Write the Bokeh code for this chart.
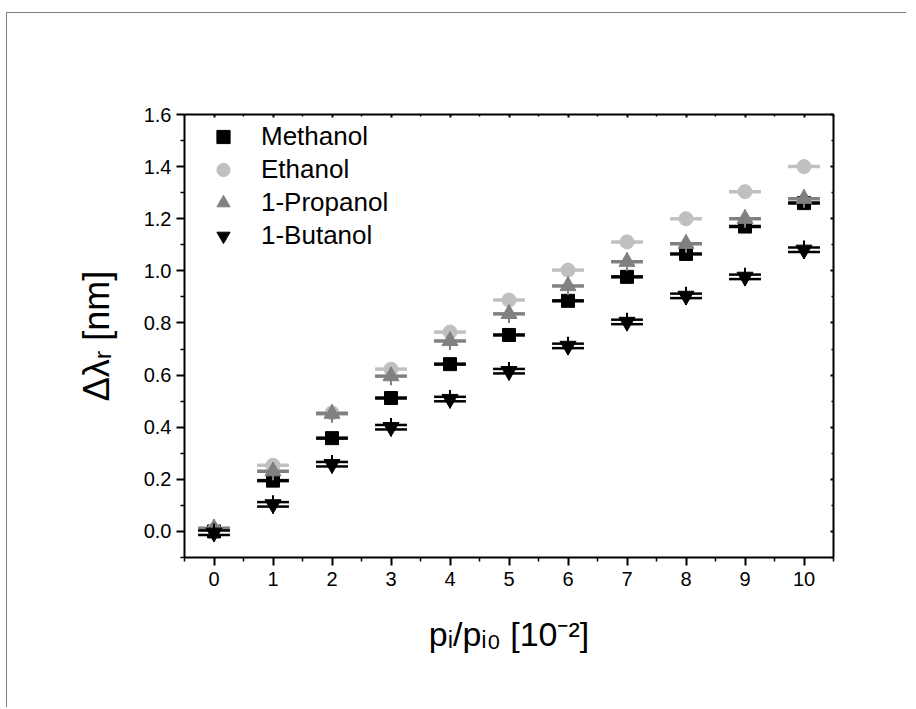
from bokeh.plotting import figure
from bokeh.models import (Range1d, LinearAxis, FixedTicker, NumeralTickFormatter,
                          Legend, LegendItem, CustomJSTickFormatter)
from bokeh.embed import file_html
from bokeh.resources import INLINE

# ---------------- data ----------------
x_vals = [0, 1, 2, 3, 4, 5, 6, 7, 8, 9, 10]
methanol = [0.000, 0.195, 0.358, 0.512, 0.642, 0.754, 0.885, 0.977, 1.065, 1.170, 1.260]
ethanol = [0.005, 0.254, 0.455, 0.623, 0.765, 0.888, 1.003, 1.111, 1.200, 1.304, 1.400]
propanol = [0.012, 0.231, 0.452, 0.596, 0.731, 0.835, 0.942, 1.035, 1.104, 1.200, 1.277]
butanol = [-0.005, 0.104, 0.258, 0.400, 0.508, 0.615, 0.712, 0.804, 0.904, 0.977, 1.081]
x_err = 0.27
y_err = {"Methanol": 0.02, "Ethanol": 0.02, "1-Propanol": 0.035, "1-Butanol": 0.035}

x_ticks = [0, 1, 2, 3, 4, 5, 6, 7, 8, 9, 10]
x_minor = [-0.5, 0.5, 1.5, 2.5, 3.5, 4.5, 5.5, 6.5, 7.5, 8.5, 9.5, 10.5]
y_ticks = [0.0, 0.2, 0.4, 0.6, 0.8, 1.0, 1.2, 1.4, 1.6]
y_minor = [-0.1, 0.1, 0.3, 0.5, 0.7, 0.9, 1.1, 1.3, 1.5]

x_label = "pᵢ/pᵢ₀ [10⁻²]"
y_label = "Δλᵣ [nm]"

FONT = "Liberation Sans"

p = figure(width=900, height=695, x_range=Range1d(-0.5, 10.5), y_range=Range1d(-0.1, 1.6),
           output_backend="svg", toolbar_location=None,
           min_border_left=177, min_border_right=74, min_border_top=101, min_border_bottom=151)
p.xgrid.visible = False
p.ygrid.visible = False
p.outline_line_color = None
p.background_fill_color = "white"
p.border_fill_color = "white"
p.styles = {"border-left": "1.5px solid #7f7f7f", "border-top": "1.5px solid #7f7f7f",
            "margin-left": "6px", "margin-top": "12px"}

def style_axis(ax, ticks, minor, main=True):
    ax.ticker = FixedTicker(ticks=ticks, minor_ticks=minor)
    ax.axis_line_width = 2
    ax.axis_line_color = "black"
    ax.major_tick_line_width = 2
    ax.minor_tick_line_width = 1.5
    ax.major_tick_line_color = "black"
    ax.minor_tick_line_color = "black"
    if main:
        ax.major_tick_out = 8
        ax.major_tick_in = 0
        ax.minor_tick_out = 4
        ax.minor_tick_in = 0
        ax.major_label_text_font = FONT
        ax.major_label_text_font_size = "20px"
        ax.major_label_text_color = "black"
        ax.axis_label_text_font = FONT
        ax.axis_label_text_font_style = "normal"
        ax.axis_label_text_color = "black"
    else:
        ax.major_tick_out = 0
        ax.major_tick_in = 3
        ax.minor_tick_out = 0
        ax.minor_tick_in = 2
        ax.formatter = CustomJSTickFormatter(code="return ''")
        ax.major_label_text_font_size = "1px"

xax = p.xaxis[0]
style_axis(xax, x_ticks, x_minor)
xax.axis_label = x_label
xax.axis_label_text_font_size = "34px"
xax.major_label_standoff = 6
xax.axis_label_standoff = 26

yax = p.yaxis[0]
style_axis(yax, y_ticks, y_minor)
yax.formatter = NumeralTickFormatter(format="0.0")
yax.axis_label = y_label
yax.axis_label_text_font_size = "36px"
yax.major_label_standoff = 5
yax.axis_label_standoff = 24

top_ax = LinearAxis()
style_axis(top_ax, x_ticks, x_minor, main=False)
p.add_layout(top_ax, "above")
right_ax = LinearAxis()
style_axis(right_ax, y_ticks, y_minor, main=False)
p.add_layout(right_ax, "right")

series = [
    ("Methanol", methanol, "black", "square", 13),
    ("Ethanol", ethanol, "#c0c0c0", "circle", 14),
    ("1-Propanol", propanol, "#808080", "triangle", 16),
    ("1-Butanol", butanol, "black", "inverted_triangle", 16),
]

items = []
for name, ys, color, marker, size in series:
    x0 = [x - x_err for x in x_vals]
    x1 = [x + x_err for x in x_vals]
    e = y_err[name]
    p.segment(x_vals, [y - e for y in ys], x_vals, [y + e for y in ys],
              line_color=color, line_width=2)
    if name == "1-Butanol":
        p.segment(x0, ys, x1, ys, line_color=color, line_width=7)
        p.segment(x0, ys, x1, ys, line_color="white", line_width=2)
    else:
        p.segment(x0, ys, x1, ys, line_color=color, line_width=3.5)
    r = p.scatter(x_vals, ys, marker=marker, size=size, fill_color=color, line_color=color)
    items.append(LegendItem(label=name, renderers=[r]))

legend = Legend(items=items, location="top_left", margin=6, padding=0,
                glyph_width=66, glyph_height=33, label_height=33, label_standoff=5,
                spacing=0, label_text_font=FONT, label_text_font_size="26px",
                label_text_color="black", border_line_color=None,
                background_fill_alpha=0)
p.add_layout(legend)

open("out.html", "w").write(file_html(p, INLINE))
